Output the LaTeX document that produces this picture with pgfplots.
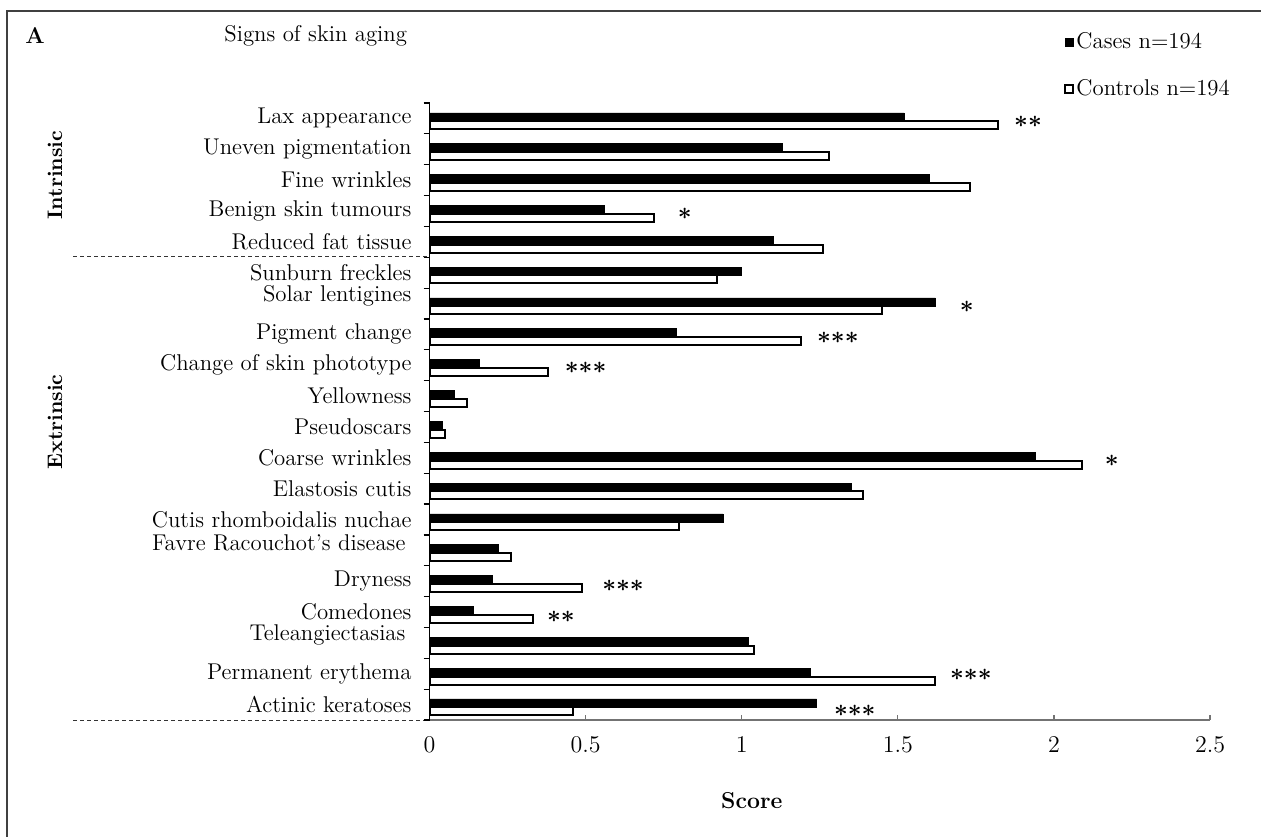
\documentclass[border=0pt]{standalone}
\usepackage{pgfplots}
\pgfplotsset{compat=1.18}

% Mean scores per sign, listed from the bottom row (index 0) to the top row (index 19)
\pgfplotstableread{
y  cases controls
0  1.24  0.46
1  1.22  1.62
2  1.02  1.04
3  0.14  0.33
4  0.20  0.49
5  0.22  0.26
6  0.94  0.80
7  1.35  1.39
8  1.94  2.09
9  0.04  0.05
10 0.08  0.12
11 0.16  0.38
12 0.79  1.19
13 1.62  1.45
14 1.00  0.92
15 1.10  1.26
16 0.56  0.72
17 1.60  1.73
18 1.13  1.28
19 1.52  1.82
}\skindata

\newcommand{\lbl}{\fontsize{11.4}{13.7}\selectfont}
\newcommand{\up}[1]{\raisebox{3.8pt}[\height][\depth]{#1}}
\newcommand{\sig}[1]{{\boldmath$#1$}}

\begin{document}
\begin{tikzpicture}
\useasboundingbox (0pt,0pt) rectangle (630.5pt,418pt);

\begin{scope}[shift={(0pt,418pt)}, x=0.5pt, y=-0.5pt]
  % panel frame
  \draw[line width=1.4pt, black!75] (7,900) -- (7,11) -- (1300,11);
  % group separators
  \draw[line width=0.5pt, black!80, dash pattern=on 2pt off 1.5pt] (73,257) -- (429.5,257);
  \draw[line width=0.5pt, black!80, dash pattern=on 2pt off 1.5pt] (73,720.5) -- (429.5,720.5);
  \node[font=\lbl\bfseries] at (35,36) {A};
  \node[font=\lbl, anchor=west, inner sep=0pt] at (224,36) {Signs of skin aging};
  \node[font=\fontsize{10.5}{12}\selectfont\bfseries, rotate=90] at (55,175) {Intrinsic};
  \node[font=\fontsize{10.5}{12}\selectfont\bfseries, rotate=90] at (55,422) {Extrinsic};
\end{scope}

\begin{axis}[
  at={(214.75pt,58pt)}, anchor=south west,
  scale only axis, width=390.25pt, height=308.5pt,
  xbar, bar width=4pt,
  xmin=0, xmax=2.5,
  xtick={0,0.5,...,2.5},
  ymin=-0.5, ymax=19.5,
  ytick={0,...,19},
  minor ytick={-0.5,0.5,...,19.5},
  yticklabels={
    Actinic keratoses,
    Permanent erythema,
    \up{Teleangiectasias\kern3pt},
    Comedones,
    Dryness,
    \up{Favre Racouchot's disease\kern3pt},
    Cutis rhomboidalis nuchae,
    Elastosis cutis,
    Coarse wrinkles,
    Pseudoscars,
    Yellowness,
    Change of skin phototype,
    Pigment change,
    \up{Solar lentigines},
    Sunburn freckles,
    Reduced fat tissue,
    Benign skin tumours,
    Fine wrinkles,
    Uneven pigmentation,
    Lax appearance},
  axis x line*=bottom, axis y line*=left,
  xtick align=inside, ytick align=outside,
  major tick length=2.5pt, minor tick length=3pt,
  major y tick style={draw=none},
  minor y tick style={black, line width=0.6pt},
  major x tick style={black!55, line width=0.6pt},
  x axis line style={black!55, line width=0.8pt},
  y axis line style={black, line width=0.8pt},
  tick label style={font=\lbl},
  x tick label style={font=\fontsize{12}{14}\selectfont, yshift=-5pt},
  y tick label style={xshift=-3pt},
  xlabel={Score},
  xlabel style={font=\fontsize{11.5}{14}\selectfont\bfseries,
                at={(axis description cs:0.413,-0.13)}, anchor=center},
  legend style={at={(0.813,1.1216)}, anchor=north west, draw=none, fill=none,
                font=\lbl, row sep=10pt, inner sep=0pt,
                nodes={inner xsep=1pt}},
  legend cell align=left,
  legend image code/.code={\draw[#1] (0pt,-2pt) rectangle (4pt,2pt);},
  clip=false,
]
\addplot[fill=black, draw=black, line width=0.3pt, bar shift=0.8pt]
  table[x=cases, y=y] {\skindata};
\addlegendentry{Cases n=194}
\addplot[fill=white, draw=black, line width=1pt, bar shift=-3.4pt]
  table[x=controls, y=y] {\skindata};
\addlegendentry{Controls n=194}

% significance marks
\begin{scope}[every node/.style={font=\fontsize{12.5}{14}\selectfont, inner sep=0pt}]
\node at (axis cs:1.917,18.9) {\sig{{\ast}{\ast}}};
\node at (axis cs:0.818,15.9) {\sig{{\ast}}};
\node at (axis cs:1.721,12.9) {\sig{{\ast}}};
\node at (axis cs:1.308,11.9) {\sig{{\ast}{\ast}{\ast}}};
\node at (axis cs:0.500,10.9) {\sig{{\ast}{\ast}{\ast}}};
\node at (axis cs:2.185,7.9) {\sig{{\ast}}};
\node at (axis cs:0.620,3.85) {\sig{{\ast}{\ast}{\ast}}};
\node at (axis cs:0.421,2.85) {\sig{{\ast}{\ast}}};
\node at (axis cs:1.734,0.95) {\sig{{\ast}{\ast}{\ast}}};
\node at (axis cs:1.362,-0.2) {\sig{{\ast}{\ast}{\ast}}};
\end{scope}
\end{axis}
\end{tikzpicture}
\end{document}
